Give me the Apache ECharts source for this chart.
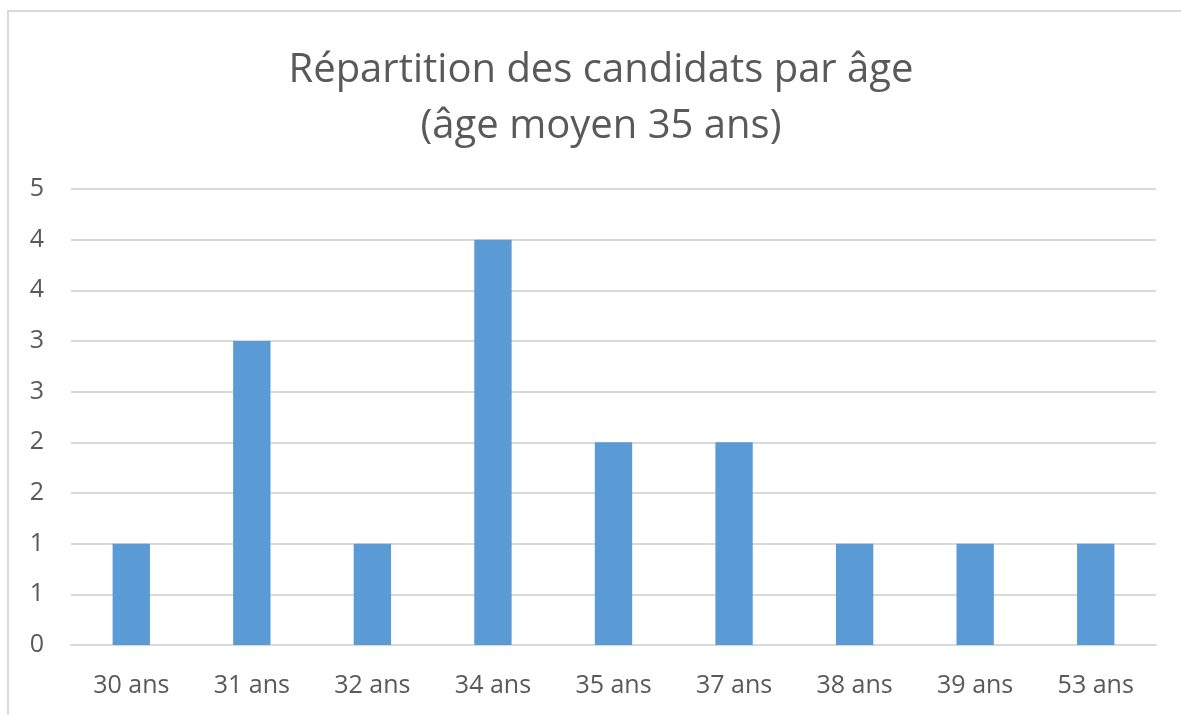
<!DOCTYPE html>
<html>
<head>
<meta charset="utf-8">
<script src="https://cdn.jsdelivr.net/npm/echarts@6/dist/echarts.min.js"></script>
<style>
  html, body { margin: 0; padding: 0; background: #fff; overflow: hidden; }
  #frame {
    position: absolute; left: 7px; top: 10px; width: 1180px; height: 715px;
    border-left: 2px solid #d9d9d9; border-top: 2px solid #d9d9d9; box-sizing: border-box;
  }
  #chart { position: absolute; left: 0; top: 0; width: 1181px; height: 715px; }
</style>
</head>
<body>
<div id="frame"></div>
<div id="chart"></div>
<script>
var categories = ['30 ans', '31 ans', '32 ans', '34 ans', '35 ans', '37 ans', '38 ans', '39 ans', '53 ans'];
var counts = [1, 3, 1, 4, 2, 2, 1, 1, 1];

var myChart = echarts.init(document.getElementById('chart'));
myChart.setOption({
  animation: false,
  title: {
    text: 'Répartition des candidats par âge\n(âge moyen 35 ans)',
    left: 596,
    textAlign: 'center',
    top: 38,
    textStyle: {
      fontFamily: 'Open Sans',
      fontWeight: 'normal',
      fontSize: 40,
      lineHeight: 56,
      color: '#595959'
    }
  },
  grid: { left: 71, right: 25, top: 189, bottom: 70 },
  xAxis: {
    type: 'category',
    data: categories,
    axisLine: { lineStyle: { color: '#d9d9d9', width: 2 } },
    axisTick: { show: false },
    axisLabel: { color: '#595959', fontSize: 25, fontFamily: 'Open Sans', margin: 28 }
  },
  yAxis: {
    type: 'value',
    min: 0,
    max: 4.5,
    interval: 0.5,
    axisLine: { show: false },
    axisTick: { show: false },
    splitLine: { lineStyle: { color: '#d9d9d9', width: 2 } },
    axisLabel: {
      color: '#595959', fontSize: 25, fontFamily: 'Open Sans', margin: 27,
      formatter: function (v) { return String(Math.round(v)); }
    }
  },
  series: [{
    type: 'bar',
    data: counts,
    barWidth: '31%',
    itemStyle: { color: '#5b9bd5' }
  }]
});
</script>
</body>
</html>
